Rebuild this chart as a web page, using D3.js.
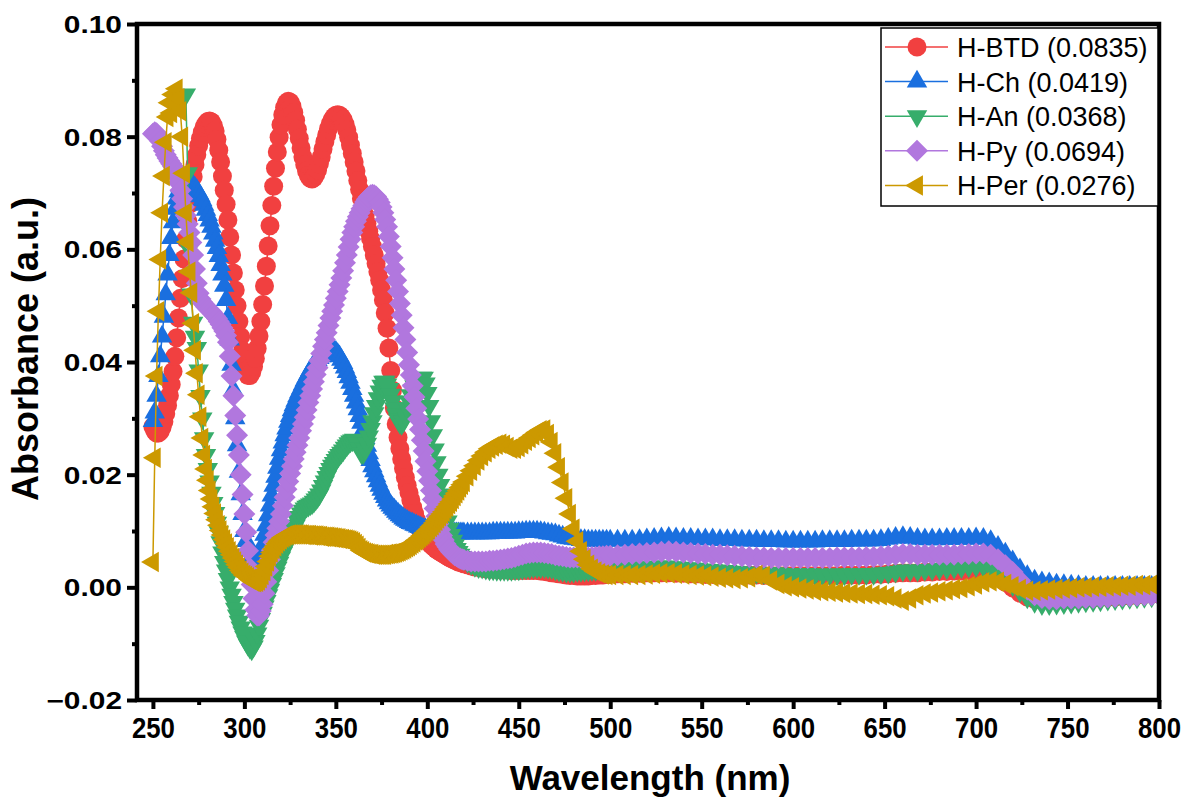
<!DOCTYPE html>
<html><head><meta charset="utf-8">
<script src="https://cdn.jsdelivr.net/npm/d3@7"></script>
<style>body{margin:0;background:#fff}svg{display:block}</style>
</head><body>
<svg id="chart" width="1190" height="800"></svg>
<script>
// wavelength grid (nm): 1 nm steps up to 420 nm, then 2 nm, then 4 nm
const wavelength = [].concat(d3.range(250, 421, 1), d3.range(422, 501, 2), d3.range(504, 801, 4));

const seriesNames = ["H-BTD (0.0835)", "H-Ch (0.0419)", "H-An (0.0368)", "H-Py (0.0694)", "H-Per (0.0276)"];
const seriesColors = ["#F14040", "#1A6FDF", "#37AD6B", "#B177DE", "#CC9900"];
const seriesMarkers = ["circle", "triangleUp", "triangleDown", "diamond", "triangleLeft"];

const hBTD = [
// 250-300
.0285,.0278,.0274,.0274,.0277,.0284,.0294,.0308,.0323,.0340,
.0360,.0383,.0410,.0443,.0478,.0513,.0548,.0583,.0618,.0650,
.0680,.0706,.0729,.0750,.0768,.0784,.0797,.0808,.0817,.0823,
.0827,.0828,.0826,.0820,.0810,.0795,.0776,.0755,.0730,.0705,
.0680,.0652,.0622,.0590,.0558,.0528,.0500,.0472,.0445,.0420,
.0398,
// 301-420
.0385,.0376,.0376,.0382,.0392,.0406,.0424,.0446,.0472,.0502,
.0535,.0570,.0606,.0642,.0678,.0712,.0744,.0773,.0799,.0821,
.0839,.0852,.0860,.0863,.0861,.0854,.0843,.0829,.0813,.0797,
.0780,.0764,.0750,.0739,.0731,.0726,.0725,.0727,.0733,.0741,
.0752,.0764,.0778,.0791,.0803,.0814,.0823,.0830,.0835,.0838,
.0839,.0838,.0835,.0830,.0822,.0812,.0799,.0785,.0770,.0755,
.0739,.0722,.0706,.0690,.0675,.0660,.0646,.0632,.0619,.0605,
.0590,.0575,.0560,.0545,.0528,.0510,.0487,.0460,.0425,.0385,
.0350,.0318,.0290,.0266,.0246,.0228,.0211,.0195,.0181,.0168,
.0155,.0142,.0131,.0120,.0111,.0103,.0097,.0092,.0087,.0083,
.0079,.0076,.0073,.0070,.0067,.0065,.0063,.0061,.0059,.0057,
.0055,.0053,.0051,.0050,.0048,.0047,.0045,.0044,.0043,.0042,
// 422-500
.0040,.0038,.0036,.0035,.0034,.0033,.0033,.0032,.0032,.0031,
.0031,.0031,.0030,.0030,.0030,.0030,.0030,.0030,.0030,.0030,
.0029,.0028,.0027,.0026,.0025,.0024,.0023,.0022,.0021,.0021,
.0020,.0020,.0020,.0020,.0021,.0021,.0022,.0022,.0023,.0023,
// 504-800
.0024,.0024,.0025,.0025,.0026,.0026,.0026,.0026,.0025,.0025,
.0024,.0024,.0023,.0023,.0022,.0022,.0022,.0022,.0022,.0022,
.0021,.0021,.0021,.0021,.0021,.0021,.0021,.0021,.0021,.0021,
.0021,.0022,.0022,.0022,.0022,.0023,.0023,.0024,.0025,.0026,
.0026,.0026,.0027,.0027,.0028,.0028,.0029,.0029,.0030,.0030,
.0030,.0027,.0019,.0009,-.0001,-.0010,-.0017,-.0021,-.0023,-.0023,
-.0022,-.0022,-.0021,-.0021,-.0020,-.0019,-.0018,-.0018,-.0017,-.0016,
-.0015,-.0014,-.0013,-.0012,-.0012
];

const hCh = [
// 250-300
.0295,.0310,.0340,.0375,.0410,.0445,.0480,.0520,.0555,.0590,
.0620,.0648,.0672,.0690,.0703,.0712,.0718,.0721,.0722,.0721,
.0720,.0717,.0713,.0709,.0705,.0700,.0694,.0687,.0679,.0670,
.0661,.0651,.0640,.0628,.0615,.0602,.0588,.0572,.0555,.0535,
.0510,.0478,.0440,.0395,.0350,.0300,.0252,.0205,.0165,.0130,
.0100,
// 301-420
.0082,.0065,.0049,.0035,.0026,.0024,.0030,.0040,.0057,.0075,
.0093,.0110,.0128,.0145,.0163,.0180,.0196,.0212,.0228,.0243,
.0257,.0270,.0282,.0294,.0304,.0314,.0323,.0331,.0339,.0346,
.0353,.0360,.0367,.0373,.0379,.0385,.0390,.0395,.0399,.0403,
.0407,.0410,.0413,.0416,.0418,.0420,.0421,.0421,.0420,.0418,
.0414,.0410,.0404,.0398,.0390,.0382,.0373,.0363,.0352,.0340,
.0328,.0316,.0304,.0292,.0279,.0265,.0251,.0238,.0226,.0215,
.0206,.0197,.0188,.0180,.0173,.0166,.0160,.0154,.0149,.0145,
.0141,.0138,.0134,.0131,.0128,.0125,.0122,.0120,.0118,.0116,
.0114,.0113,.0111,.0110,.0108,.0107,.0105,.0104,.0103,.0102,
.0101,.0100,.0099,.0099,.0098,.0098,.0097,.0097,.0097,.0097,
.0097,.0097,.0096,.0096,.0096,.0096,.0096,.0096,.0096,.0096,
// 422-500
.0096,.0096,.0096,.0096,.0096,.0096,.0096,.0097,.0097,.0097,
.0097,.0097,.0097,.0097,.0098,.0098,.0099,.0099,.0099,.0099,
.0098,.0097,.0096,.0095,.0094,.0092,.0090,.0088,.0087,.0086,
.0085,.0084,.0084,.0083,.0083,.0083,.0083,.0083,.0083,.0083,
// 504-800
.0083,.0083,.0083,.0084,.0085,.0086,.0087,.0088,.0087,.0086,
.0086,.0085,.0085,.0085,.0084,.0084,.0084,.0083,.0083,.0083,
.0082,.0082,.0082,.0081,.0081,.0081,.0081,.0081,.0082,.0082,
.0082,.0082,.0083,.0083,.0083,.0083,.0084,.0086,.0088,.0089,
.0088,.0086,.0085,.0085,.0085,.0086,.0086,.0086,.0086,.0087,
.0086,.0082,.0072,.0060,.0046,.0032,.0020,.0012,.0009,.0007,
.0005,.0004,.0003,.0002,.0001,.0001,.0001,.0001,.0001,.0001,
.0001,.0001,.0001,.0001,.0001
];

const hAn = [
// 250-300
null,null,null,null,null,null,null,null,null,null,
null,null,null,null,null,null,null,null,.0875,.0735,
.0600,.0520,.0470,.0445,.0425,.0385,.0340,.0300,.0265,.0235,
.0210,.0188,.0168,.0150,.0132,.0115,.0098,.0080,.0062,.0045,
.0030,.0015,.0000,-.0013,-.0026,-.0038,-.0050,-.0061,-.0071,-.0080,
-.0088,
// 301-420
-.0096,-.0102,-.0107,-.0110,-.0105,-.0095,-.0082,-.0068,-.0056,-.0045,
-.0034,-.0024,-.0014,-.0004,.0006,.0015,.0025,.0035,.0044,.0053,
.0061,.0068,.0075,.0082,.0089,.0096,.0103,.0110,.0118,.0125,
.0131,.0136,.0140,.0143,.0145,.0147,.0149,.0152,.0156,.0160,
.0165,.0172,.0180,.0188,.0196,.0203,.0210,.0216,.0221,.0226,
.0231,.0235,.0239,.0243,.0248,.0252,.0256,.0259,.0261,.0262,
.0260,.0255,.0246,.0238,.0238,.0245,.0255,.0268,.0281,.0295,
.0309,.0322,.0336,.0348,.0358,.0365,.0365,.0360,.0352,.0342,
.0330,.0318,.0307,.0298,.0292,.0290,.0295,.0305,.0318,.0330,
.0341,.0350,.0357,.0362,.0366,.0370,.0372,.0372,.0362,.0345,
.0322,.0295,.0270,.0245,.0222,.0200,.0182,.0165,.0148,.0132,
.0117,.0104,.0093,.0083,.0075,.0068,.0063,.0058,.0054,.0050,
// 422-500
.0045,.0041,.0038,.0036,.0035,.0033,.0032,.0032,.0031,.0031,
.0031,.0031,.0031,.0032,.0032,.0033,.0034,.0035,.0036,.0036,
.0036,.0036,.0035,.0034,.0032,.0030,.0029,.0028,.0028,.0028,
.0029,.0029,.0030,.0030,.0031,.0031,.0032,.0032,.0033,.0033,
// 504-800
.0034,.0035,.0035,.0036,.0036,.0037,.0037,.0037,.0036,.0035,
.0034,.0033,.0032,.0031,.0030,.0029,.0028,.0027,.0026,.0026,
.0025,.0025,.0025,.0024,.0024,.0024,.0024,.0023,.0023,.0023,
.0023,.0023,.0024,.0024,.0024,.0024,.0025,.0026,.0028,.0030,
.0030,.0030,.0031,.0032,.0033,.0034,.0035,.0036,.0037,.0038,
.0038,.0035,.0025,.0014,.0004,-.0007,-.0018,-.0026,-.0030,-.0030,
-.0029,-.0028,-.0027,-.0026,-.0025,-.0024,-.0023,-.0022,-.0021,-.0020,
-.0019,-.0018,-.0017,-.0016,-.0015
];

const hPy = [
// 250-300
.0805,.0808,.0806,.0800,.0792,.0783,.0775,.0768,.0762,.0757,
.0752,.0747,.0740,.0730,.0718,.0705,.0690,.0675,.0660,.0645,
.0630,.0612,.0590,.0565,.0540,.0522,.0512,.0506,.0502,.0498,
.0495,.0492,.0489,.0485,.0481,.0477,.0472,.0467,.0461,.0455,
.0447,.0435,.0410,.0375,.0340,.0305,.0270,.0235,.0200,.0165,
.0130,
// 301-420
.0098,.0065,.0034,.0005,-.0020,-.0040,-.0050,-.0050,-.0042,-.0030,
-.0011,.0010,.0030,.0050,.0066,.0080,.0093,.0105,.0117,.0130,
.0145,.0160,.0174,.0188,.0202,.0215,.0228,.0240,.0252,.0265,
.0278,.0290,.0302,.0315,.0328,.0340,.0352,.0365,.0378,.0390,
.0402,.0415,.0428,.0440,.0452,.0465,.0478,.0490,.0501,.0513,
.0525,.0537,.0549,.0562,.0576,.0590,.0604,.0618,.0630,.0640,
.0650,.0658,.0665,.0672,.0678,.0684,.0689,.0693,.0696,.0697,
.0696,.0694,.0689,.0683,.0675,.0665,.0653,.0640,.0623,.0605,
.0585,.0565,.0545,.0525,.0504,.0483,.0461,.0440,.0417,.0395,
.0377,.0358,.0338,.0318,.0299,.0280,.0261,.0242,.0224,.0206,
.0189,.0172,.0156,.0140,.0126,.0113,.0102,.0092,.0084,.0077,
.0072,.0067,.0063,.0060,.0057,.0055,.0053,.0051,.0050,.0049,
// 422-500
.0047,.0046,.0046,.0046,.0046,.0046,.0047,.0047,.0048,.0049,
.0050,.0051,.0052,.0054,.0056,.0058,.0060,.0061,.0062,.0062,
.0062,.0061,.0060,.0059,.0057,.0056,.0055,.0054,.0053,.0053,
.0053,.0053,.0053,.0053,.0054,.0054,.0055,.0055,.0056,.0056,
// 504-800
.0057,.0058,.0059,.0060,.0061,.0062,.0063,.0064,.0063,.0062,
.0061,.0060,.0059,.0058,.0058,.0057,.0056,.0055,.0054,.0053,
.0053,.0052,.0052,.0052,.0052,.0052,.0052,.0052,.0052,.0052,
.0053,.0053,.0053,.0053,.0054,.0054,.0055,.0056,.0058,.0059,
.0059,.0058,.0058,.0058,.0058,.0058,.0058,.0059,.0059,.0060,
.0060,.0058,.0050,.0039,.0027,.0012,-.0004,-.0014,-.0019,-.0021,
-.0021,-.0020,-.0020,-.0020,-.0019,-.0019,-.0018,-.0018,-.0017,-.0016,
-.0016,-.0015,-.0014,-.0014,-.0013
];

const hPer = [
// 250-300
.0045,.0230,.0375,.0490,.0582,.0665,.0730,.0790,.0835,.0860,
.0842,.0875,.0858,.0885,.0868,.0845,.0800,.0735,.0665,.0613,
.0560,.0523,.0469,.0421,.0380,.0342,.0303,.0265,.0235,.0210,
.0190,.0172,.0157,.0143,.0131,.0120,.0110,.0101,.0093,.0085,
.0078,.0071,.0064,.0058,.0052,.0046,.0040,.0035,.0030,.0026,
.0022,
// 301-420
.0020,.0018,.0015,.0012,.0010,.0009,.0010,.0012,.0016,.0022,
.0029,.0037,.0046,.0055,.0062,.0068,.0073,.0078,.0082,.0085,
.0088,.0090,.0092,.0093,.0094,.0094,.0094,.0094,.0094,.0094,
.0094,.0094,.0093,.0093,.0093,.0093,.0092,.0092,.0092,.0092,
.0091,.0091,.0090,.0090,.0090,.0090,.0089,.0089,.0088,.0088,
.0087,.0087,.0086,.0086,.0085,.0085,.0084,.0083,.0082,.0080,
.0077,.0074,.0070,.0066,.0064,.0062,.0061,.0060,.0059,.0059,
.0058,.0058,.0058,.0058,.0058,.0058,.0058,.0059,.0059,.0060,
.0060,.0061,.0062,.0063,.0064,.0066,.0067,.0069,.0071,.0073,
.0075,.0078,.0080,.0083,.0085,.0088,.0091,.0094,.0097,.0100,
.0103,.0107,.0110,.0114,.0118,.0122,.0126,.0130,.0134,.0139,
.0143,.0148,.0152,.0157,.0162,.0167,.0172,.0177,.0182,.0187,
// 422-500
.0197,.0207,.0216,.0225,.0233,.0240,.0246,.0250,.0253,.0255,
.0253,.0249,.0246,.0246,.0249,.0254,.0260,.0265,.0270,.0275,
.0279,.0280,.0272,.0258,.0238,.0213,.0186,.0158,.0130,.0104,
.0082,.0064,.0050,.0040,.0033,.0028,.0025,.0023,.0022,.0022,
// 504-800
.0022,.0022,.0022,.0022,.0023,.0024,.0025,.0025,.0024,.0023,
.0022,.0021,.0020,.0019,.0017,.0016,.0015,.0016,.0018,.0022,
.0020,.0012,.0006,.0002,.0000,-.0002,-.0004,-.0006,-.0007,-.0008,
-.0009,-.0010,-.0011,-.0012,-.0012,-.0013,-.0014,-.0016,-.0020,-.0024,
-.0020,-.0014,-.0011,-.0009,-.0007,-.0005,-.0003,-.0001,.0002,.0005,
.0009,.0011,.0010,.0006,.0002,-.0003,-.0006,-.0006,-.0005,-.0004,
-.0003,-.0002,-.0001,.0000,.0000,.0001,.0001,.0002,.0002,.0003,
.0003,.0004,.0004,.0005,.0005
];

const xTicks = [250, 300, 350, 400, 450, 500, 550, 600, 650, 700, 750, 800];
const xMinorTicks = [275, 325, 375, 425, 475, 525, 575, 625, 675, 725, 775];
const yTicks = [-0.02, 0.00, 0.02, 0.04, 0.06, 0.08, 0.10];
const yTickLabels = ["\u22120.02", "0.00", "0.02", "0.04", "0.06", "0.08", "0.10"];
const yMinorTicks = [-0.01, 0.01, 0.03, 0.05, 0.07, 0.09];

const allSeries = [hBTD, hCh, hAn, hPy, hPer];
allSeries.forEach((s, i) => { if (s.length !== wavelength.length) throw new Error("length mismatch " + i + ": " + s.length + " vs " + wavelength.length); });

const FONT = "'Liberation Sans', Arial, Helvetica, sans-serif";
const svg = d3.select("#chart");
const L = 137, R = 1159, T = 24, B = 700;
const x = d3.scaleLinear().domain([241.3, 800]).range([L, R]);
const y = d3.scaleLinear().domain([-0.02, 0.10]).range([B, T]);

function markerPath(type) {
  const a = 20.5, h = a * Math.sqrt(3) / 2;
  switch (type) {
    case "circle": return d3.symbol(d3.symbolCircle, Math.PI * 9.5 * 9.5)();
    case "triangleUp": return `M0,${-2*h/3}L${a/2},${h/3}L${-a/2},${h/3}Z`;
    case "triangleDown": return `M0,${2*h/3}L${a/2},${-h/3}L${-a/2},${-h/3}Z`;
    case "diamond": return "M0,-11L11,0L0,11L-11,0Z";
    case "triangleLeft": return `M${-2*h/3},0L${h/3},${-a/2}L${h/3},${a/2}Z`;
  }
}

svg.append("defs").append("clipPath").attr("id", "plotclip")
  .append("rect").attr("x", L).attr("y", T).attr("width", R - L).attr("height", B - T);

const plot = svg.append("g").attr("clip-path", "url(#plotclip)");
const line = d3.line().defined(d => d.v !== null).x(d => x(d.w)).y(d => y(d.v));

allSeries.forEach((vals, i) => {
  const pts = wavelength.map((w, k) => ({ w, v: vals[k] }));
  const g = plot.append("g");
  g.append("path").datum(pts).attr("d", line).attr("fill", "none")
    .attr("stroke", seriesColors[i]).attr("stroke-width", 1.5);
  const mp = markerPath(seriesMarkers[i]);
  g.selectAll("path.m").data(pts.filter(d => d.v !== null)).join("path")
    .attr("class", "m").attr("d", mp).attr("fill", seriesColors[i])
    .attr("transform", d => `translate(${x(d.w)},${y(d.v)})`);
});

// x axis
const xg = svg.append("g").attr("transform", `translate(0,${B})`)
  .call(d3.axisBottom(x).tickValues(xTicks).tickSize(9).tickSizeOuter(0).tickFormat(d3.format("d")));
xg.select(".domain").remove();
xg.selectAll(".tick line").attr("stroke", "#000").attr("stroke-width", 4);
xg.selectAll(".tick text").attr("y", 0).attr("dy", null).attr("fill", "#000")
  .attr("font-family", FONT).attr("font-weight", "bold").attr("font-size", 30)
  .attr("text-anchor", "middle").attr("transform", "translate(0,38) scale(0.86,1)");
const xmg = svg.append("g").attr("transform", `translate(0,${B})`)
  .call(d3.axisBottom(x).tickValues(xMinorTicks).tickSize(5).tickSizeOuter(0).tickFormat(""));
xmg.select(".domain").remove();
xmg.selectAll(".tick line").attr("stroke", "#000").attr("stroke-width", 4);

// y axis
const yg = svg.append("g").attr("transform", `translate(${L},0)`)
  .call(d3.axisLeft(y).tickValues(yTicks).tickSize(10).tickSizeOuter(0)
    .tickFormat((d, i) => yTickLabels[i]));
yg.select(".domain").remove();
yg.selectAll(".tick line").attr("stroke", "#000").attr("stroke-width", 4);
yg.selectAll(".tick text").attr("x", 0).attr("dy", null).attr("fill", "#000")
  .attr("font-family", FONT).attr("font-weight", "bold").attr("font-size", 23)
  .attr("text-anchor", "end").attr("transform", "translate(-15,8.5) scale(1.3,1)");
const ymg = svg.append("g").attr("transform", `translate(${L},0)`)
  .call(d3.axisLeft(y).tickValues(yMinorTicks).tickSize(5).tickSizeOuter(0).tickFormat(""));
ymg.select(".domain").remove();
ymg.selectAll(".tick line").attr("stroke", "#000").attr("stroke-width", 4);

// frame
svg.append("rect").attr("x", L).attr("y", T).attr("width", R - L).attr("height", B - T)
  .attr("fill", "none").attr("stroke", "#000").attr("stroke-width", 4.5);

// titles
svg.append("text").attr("x", 650).attr("y", 790).attr("text-anchor", "middle")
  .attr("font-family", FONT).attr("font-weight", "bold").attr("font-size", 35)
  .text("Wavelength (nm)");
svg.append("text").attr("transform", "translate(38,349) rotate(-90)").attr("text-anchor", "middle")
  .attr("font-family", FONT).attr("font-weight", "bold").attr("font-size", 36)
  .text("Absorbance (a.u.)");

// legend
const lg = svg.append("g");
lg.append("rect").attr("x", 881).attr("y", 28).attr("width", 277).attr("height", 178)
  .attr("fill", "#fff").attr("stroke", "#000").attr("stroke-width", 1.5);
seriesNames.forEach((name, i) => {
  const cy = 47 + i * 34.6;
  lg.append("line").attr("x1", 885).attr("x2", 948).attr("y1", cy).attr("y2", cy)
    .attr("stroke", seriesColors[i]).attr("stroke-width", 1.5);
  lg.append("path").attr("d", markerPath(seriesMarkers[i])).attr("fill", seriesColors[i])
    .attr("transform", `translate(917,${cy})`);
  lg.append("text").attr("x", 957).attr("y", cy + 10).attr("font-family", FONT)
    .attr("font-size", 27).attr("fill", "#000").text(name);
});
</script>
</body></html>
